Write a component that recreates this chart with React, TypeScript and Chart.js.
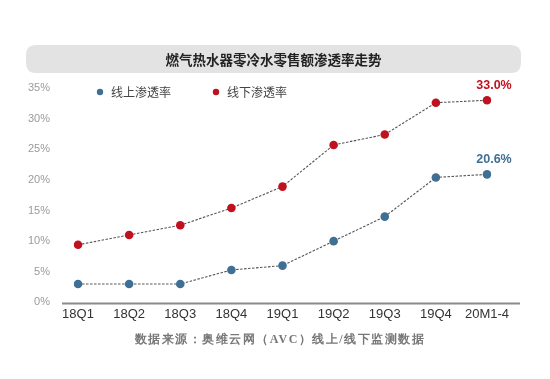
import React, { useEffect, useRef } from "react";
import { Chart, registerables } from "chart.js";

Chart.register(...registerables);

const categories = ["18Q1", "18Q2", "18Q3", "18Q4", "19Q1", "19Q2", "19Q3", "19Q4", "20M1-4"];
const onlineRate = [3.0, 3.0, 3.0, 5.3, 6.0, 10.0, 14.0, 20.4, 20.9];
const offlineRate = [9.4, 11.0, 12.6, 15.4, 18.9, 25.7, 27.4, 32.6, 33.0];
const seriesNames = ["线上渗透率", "线下渗透率"];
const endLabels = ["20.6%", "33.0%"];
const yTicks = [0, 5, 10, 15, 20, 25, 30, 35];
const titleText = "燃气热水器零冷水零售额渗透率走势";
const sourceText = "数据来源：奥维云网（AVC）线上/线下监测数据";

const BLUE = "#3f6f93";
const RED = "#c0111f";
const SANS = "'Liberation Sans', Arial, 'Noto Sans CJK SC', sans-serif";
const CJK = "'Noto Sans CJK SC', sans-serif";

const decorPlugin = {
  id: "decor",
  beforeDraw(chart: any) {
    const ctx = chart.ctx;
    const ca = chart.chartArea;
    ctx.save();
    ctx.fillStyle = "#ffffff";
    ctx.fillRect(0, 0, chart.width, chart.height);
    // title box
    const bx = 26, by = 45, bw = 495, bh = 28, r = 10;
    ctx.fillStyle = "#e3e3e3";
    ctx.beginPath();
    ctx.moveTo(bx + r, by);
    ctx.lineTo(bx + bw - r, by);
    ctx.quadraticCurveTo(bx + bw, by, bx + bw, by + r);
    ctx.lineTo(bx + bw, by + bh - r);
    ctx.quadraticCurveTo(bx + bw, by + bh, bx + bw - r, by + bh);
    ctx.lineTo(bx + r, by + bh);
    ctx.quadraticCurveTo(bx, by + bh, bx, by + bh - r);
    ctx.lineTo(bx, by + r);
    ctx.quadraticCurveTo(bx, by, bx + r, by);
    ctx.closePath();
    ctx.fill();
    ctx.fillStyle = "#222";
    ctx.font = "bold 13.5px " + CJK;
    ctx.textAlign = "center";
    ctx.textBaseline = "middle";
    ctx.fillText(titleText, bx + bw / 2, by + bh / 2 + 1);

    // x axis line
    ctx.strokeStyle = "#8a8a8a";
    ctx.lineWidth = 2;
    ctx.beginPath();
    ctx.moveTo(ca.left - 16, ca.bottom + 1);
    ctx.lineTo(ca.right + 33, ca.bottom + 1);
    ctx.stroke();

    // legend
    const legendX = [100, 216];
    const colors = [BLUE, RED];
    ctx.font = "12px " + CJK;
    ctx.textAlign = "left";
    for (let i = 0; i < 2; i++) {
      ctx.fillStyle = colors[i];
      ctx.beginPath();
      ctx.arc(legendX[i], 92, 3.2, 0, Math.PI * 2);
      ctx.fill();
      ctx.fillStyle = "#444";
      ctx.fillText(seriesNames[i], legendX[i] + 11, 92);
    }

    // source text
    ctx.font = "bold 12px serif";
    ctx.fillStyle = "#777";
    ctx.textAlign = "center";
    (ctx as any).letterSpacing = "1.5px";
    ctx.fillText(sourceText, 280, 340);
    (ctx as any).letterSpacing = "0px";
    ctx.restore();
  },
  afterDatasetsDraw(chart: any) {
    const ctx = chart.ctx;
    ctx.save();
    ctx.font = "bold 12.5px " + SANS;
    ctx.textAlign = "center";
    ctx.textBaseline = "middle";
    chart.data.datasets.forEach((ds: any, i: number) => {
      const meta = chart.getDatasetMeta(i);
      const last = meta.data[meta.data.length - 1];
      ctx.fillStyle = ds.pointBackgroundColor;
      ctx.fillText(endLabels[i], last.x + 7, last.y - 15);
    });
    ctx.restore();
  },
};

export default function App() {
  const ref = useRef<HTMLCanvasElement>(null);
  useEffect(() => {
    document.body.style.margin = "0";
    const chart = new Chart(ref.current!, {
      type: "line",
      data: {
        labels: categories,
        datasets: [
          {
            label: seriesNames[0],
            data: onlineRate,
            borderColor: "#555",
            borderWidth: 1.1,
            borderDash: [2.5, 1.5],
            pointBackgroundColor: BLUE,
            pointBorderColor: BLUE,
            pointRadius: 4.3,
            pointBorderWidth: 0,
            tension: 0,
          },
          {
            label: seriesNames[1],
            data: offlineRate,
            borderColor: "#555",
            borderWidth: 1.1,
            borderDash: [2.5, 1.5],
            pointBackgroundColor: RED,
            pointBorderColor: RED,
            pointRadius: 4.3,
            pointBorderWidth: 0,
            tension: 0,
          },
        ],
      },
      options: {
        responsive: false,
        animation: false,
        layout: { padding: { top: 88, left: 0, right: 63, bottom: 53 } },
        plugins: { legend: { display: false }, title: { display: false }, tooltip: { enabled: false } },
        scales: {
          x: {
            offset: false,
            grid: { display: false, drawTicks: false },
            border: { display: false },
            ticks: { color: "#333", font: { family: SANS, size: 13 }, padding: 4, maxRotation: 0, autoSkip: false },
          },
          y: {
            min: 0,
            max: 35,
            afterBuildTicks: (axis: any) => {
              axis.ticks = yTicks.map((v) => ({ value: v }));
            },
            grid: { display: false, drawTicks: false },
            border: { display: false },
            ticks: {
              color: "#9a9a9a",
              font: { family: SANS, size: 11 },
              padding: 28,
              callback: (v: any) => v + "%",
            },
          },
        },
      },
      plugins: [decorPlugin],
    });
    return () => chart.destroy();
  }, []);
  return (
    <div style={{ width: 550, height: 379 }}>
      <canvas ref={ref} width={550} height={379} />
    </div>
  );
}
